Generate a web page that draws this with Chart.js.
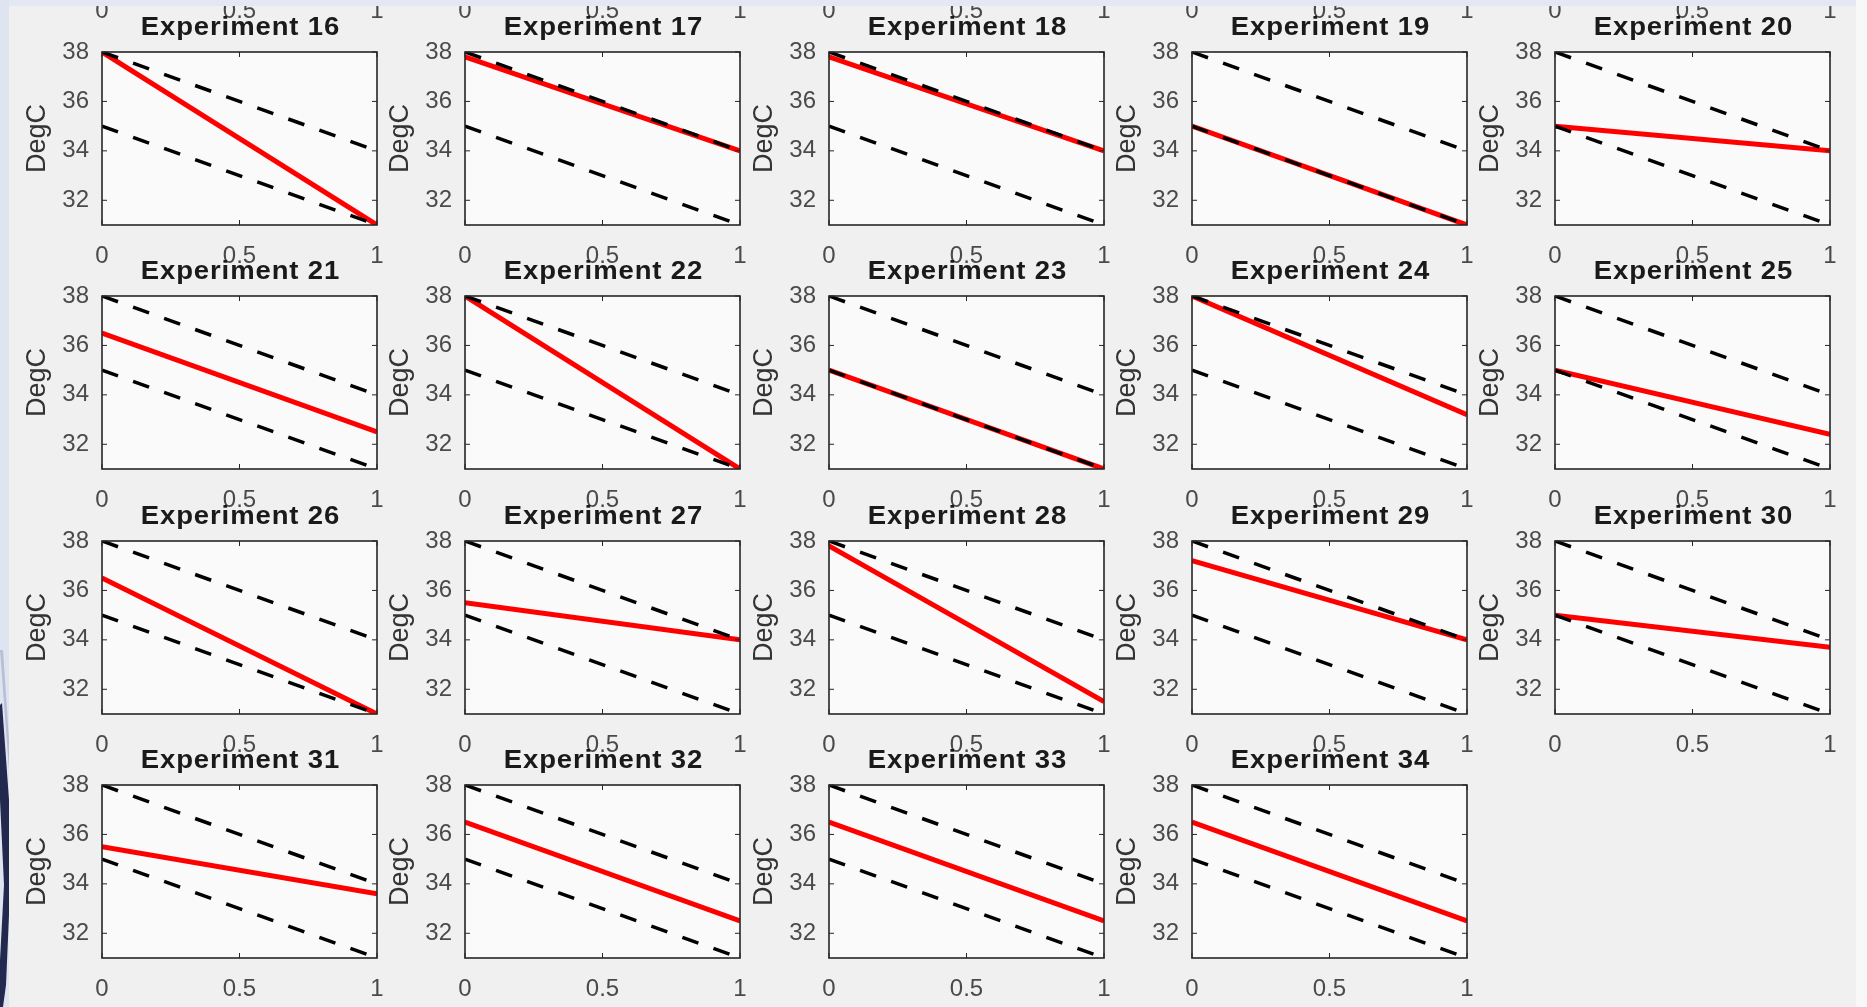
<!DOCTYPE html>
<html>
<head>
<meta charset="utf-8">
<title>DegC per experiment</title>
<script src="https://cdn.jsdelivr.net/npm/chart.js@4.4.1/dist/chart.umd.min.js"></script>
<style>
  html, body { margin: 0; padding: 0; width: 1867px; height: 1007px; overflow: hidden; background: #f0f0f0; }
  #fig { position: absolute; left: 0; top: 0; width: 1867px; height: 1007px; filter: blur(0.35px); }
  #fig canvas { position: absolute; }
  #topband { position: absolute; left: 0; top: 0; width: 1867px; height: 6px; background: #e3e8f4; }
  #leftband { position: absolute; left: 0; top: 0; width: 9px; height: 1007px; }
  #rightband { position: absolute; left: 1856px; top: 0; width: 11px; height: 1007px; background: #f8f8f8; }
</style>
</head>
<body>
<div id="fig"></div>
<div id="topband"></div>
<svg id="leftband" width="9" height="1007" viewBox="0 0 9 1007">
  <rect x="0" y="0" width="9" height="1007" fill="#dfe4f1"/>
  <polygon points="0,705 2,703 9,800 9,915 6,985 3,1007 0,1007 0,960 4,885 0,800" fill="#23284f"/>
  <polygon points="0,650 3,650 9,740 9,770" fill="#b9c0d6"/>
</svg>
<div id="rightband"></div>

<script>
// Experiment numbers shown in the grid, left to right, top to bottom
const experimentNumbers = [16, 17, 18, 19, 20, 21, 22, 23, 24, 25, 26, 27, 28, 29, 30, 31, 32, 33, 34];
// Measured temperature at the start (x = 0) and end (x = 1) of each experiment
const startTemps = [38.0, 37.8, 37.8, 35.0, 35.0, 36.5, 38.0, 35.0, 38.0, 35.0, 36.5, 35.5, 37.8, 37.2, 35.0, 35.5, 36.5, 36.5, 36.5];
const endTemps   = [31.0, 34.0, 34.0, 31.0, 34.0, 32.5, 31.0, 31.0, 33.2, 32.4, 31.0, 34.0, 31.5, 34.0, 33.7, 33.6, 32.5, 32.5, 32.5];
// Limits of the allowed band, same for every experiment
const timePoints = [0, 1];
const upperLimit = [38, 34];
const lowerLimit = [35, 31];
// Axis ticks and ranges
const xTickValues = [0, 0.5, 1];
const yTickValues = [32, 34, 36, 38];
const xRange = [0, 1];
const yRange = [31, 38];
const yAxisLabel = 'DegC';

// Grid geometry (page pixels)
const COLS = 5;
const PLOT_LEFT0 = 102, COL_STEP = 363.25;
const PLOT_TOP0 = 51.5, ROW_STEP = 244.5;
const PLOT_W = 275, PLOT_H = 173;
const PAD_L = 90, PAD_R = 40, PAD_T = 50, PAD_B = 45;

const AXIS_COLOR = '#262626';
const TICK_TEXT = '#4a4a4a';
const FONT = '"Liberation Sans", Arial, Helvetica, sans-serif';

// Plot background, MATLAB-style box with inward ticks, and bold title
const matlabAxes = {
  id: 'matlabAxes',
  beforeDatasetsDraw(chart) {
    const {ctx, chartArea: a} = chart;
    ctx.save();
    ctx.fillStyle = '#fafafa';
    ctx.fillRect(a.left, a.top, a.right - a.left, a.bottom - a.top);
    ctx.restore();
  },
  afterDatasetsDraw(chart) {
    const {ctx, chartArea: a, scales} = chart;
    const tl = 5;
    ctx.save();
    ctx.strokeStyle = AXIS_COLOR;
    ctx.lineWidth = 1;
    ctx.beginPath();
    xTickValues.forEach(v => {
      const px = scales.x.getPixelForValue(v);
      ctx.moveTo(px, a.bottom); ctx.lineTo(px, a.bottom - tl);
      ctx.moveTo(px, a.top); ctx.lineTo(px, a.top + tl);
    });
    yTickValues.forEach(v => {
      const py = scales.y.getPixelForValue(v);
      ctx.moveTo(a.left, py); ctx.lineTo(a.left + tl, py);
      ctx.moveTo(a.right, py); ctx.lineTo(a.right - tl, py);
    });
    ctx.stroke();
    ctx.lineWidth = 1.6;
    ctx.strokeRect(a.left, a.top, a.right - a.left, a.bottom - a.top);
    ctx.restore();
  },
  afterDraw(chart, args, opts) {
    if (!opts.text) return;
    const {ctx, chartArea: a} = chart;
    ctx.save();
    ctx.translate((a.left + a.right) / 2 + 1, a.top - 17);
    ctx.scale(1.1, 1);
    ctx.font = 'bold 25px ' + FONT;
    ctx.letterSpacing = '0.8px';
    ctx.fillStyle = '#1a1a1a';
    ctx.textAlign = 'center';
    ctx.textBaseline = 'alphabetic';
    ctx.fillText(opts.text, 0, 0);
    ctx.restore();
  }
};

function fixedTicks(values) {
  return scale => { scale.ticks = values.map(v => ({value: v})); };
}

function makePanel(row, col, title, datasets) {
  const plotLeft = Math.round(PLOT_LEFT0 + col * COL_STEP);
  const plotTop = Math.round(PLOT_TOP0 + row * ROW_STEP);
  const canvas = document.createElement('canvas');
  canvas.width = PAD_L + PLOT_W + PAD_R;
  canvas.height = PAD_T + PLOT_H + PAD_B;
  canvas.style.left = (plotLeft - PAD_L) + 'px';
  canvas.style.top = (plotTop - PAD_T) + 'px';
  document.getElementById('fig').appendChild(canvas);

  return new Chart(canvas, {
    type: 'line',
    data: {datasets},
    options: {
      responsive: false,
      animation: false,
      events: [],
      devicePixelRatio: 1,
      layout: {padding: {top: PAD_T, right: PAD_R, left: 0, bottom: 0}},
      plugins: {
        legend: {display: false},
        tooltip: {enabled: false},
        title: {display: false},
        matlabAxes: {text: title}
      },
      scales: {
        x: {
          type: 'linear',
          min: xRange[0], max: xRange[1],
          afterBuildTicks: fixedTicks(xTickValues),
          afterFit: s => { s.height = PAD_B; },
          grid: {display: false, drawTicks: false},
          border: {display: false},
          ticks: {font: {family: FONT, size: 24}, color: TICK_TEXT, padding: 17, maxRotation: 0, autoSkip: false,
                  callback: v => String(v)}
        },
        y: {
          type: 'linear',
          min: yRange[0], max: yRange[1],
          afterBuildTicks: fixedTicks(yTickValues),
          afterFit: s => { s.width = PAD_L; },
          grid: {display: false, drawTicks: false},
          border: {display: false},
          ticks: {font: {family: FONT, size: 24}, color: TICK_TEXT, padding: 13, autoSkip: false,
                  callback: v => String(v)},
          title: {display: true, text: yAxisLabel, color: '#333333', font: {family: FONT, size: 27, lineHeight: 1}, padding: {top: 12, bottom: 0}}
        }
      }
    },
    plugins: [matlabAxes]
  });
}

function pairs(ys) {
  return timePoints.map((x, i) => ({x, y: ys[i]}));
}

function limitSet(ys) {
  return {data: pairs(ys), borderColor: '#000000', borderWidth: 3.5, borderDash: [17, 16],
          borderCapStyle: 'butt', pointRadius: 0, tension: 0, fill: false};
}

// The preceding row of the grid sits above the top edge; only its x tick labels remain in view
for (let c = 0; c < COLS; c++) {
  makePanel(-1, c, '', []);
}

experimentNumbers.forEach((n, i) => {
  const row = Math.floor(i / COLS), col = i % COLS;
  makePanel(row, col, 'Experiment ' + n, [
    limitSet(upperLimit),
    limitSet(lowerLimit),
    {data: pairs([startTemps[i], endTemps[i]]), borderColor: '#ff0000', borderWidth: 5,
     pointRadius: 0, tension: 0, fill: false, borderCapStyle: 'butt'}
  ]);
});
</script>
</body>
</html>
